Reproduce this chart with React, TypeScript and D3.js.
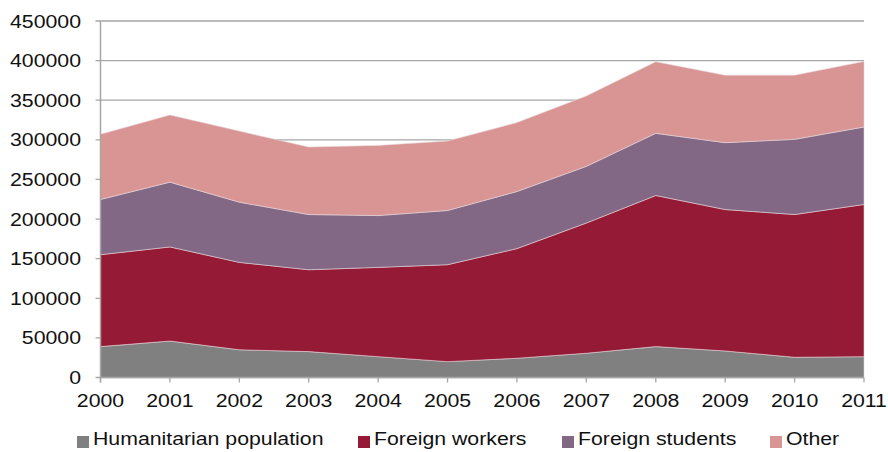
import React from "react";
import * as d3 from "d3";

const years = [2000, 2001, 2002, 2003, 2004, 2005, 2006, 2007, 2008, 2009, 2010, 2011];
const humanitarian = [39000, 46000, 35000, 32700, 26300, 20000, 24300, 30600, 39000, 33500, 25500, 26300];
const foreignWorkers = [116000, 118800, 110300, 103300, 112700, 122400, 138400, 164400, 190700, 178500, 180200, 192100];
const foreignStudents = [69700, 81800, 76000, 69700, 65400, 68400, 72100, 71500, 78500, 84400, 94900, 97800];
const other = [82300, 84800, 89700, 85200, 88600, 87700, 87000, 88900, 90300, 85200, 81000, 82800];
const seriesNames = ["Humanitarian population", "Foreign workers", "Foreign students", "Other"];
const seriesColors = ["#808080", "#951a35", "#836886", "#d99594"];
const yTicks = [0, 50000, 100000, 150000, 200000, 250000, 300000, 350000, 400000, 450000];

const W = 888, H = 452;
const left = 100.5, right = 864, top = 21, bottom = 377.5;
const FONT = "'Liberation Sans', Arial, sans-serif";
const SX = 1.15;

export default function App() {
  const rows = years.map((y, i) => ({
    year: y,
    s0: humanitarian[i],
    s1: foreignWorkers[i],
    s2: foreignStudents[i],
    s3: other[i],
  }));
  const keys = ["s0", "s1", "s2", "s3"];
  const stacked = d3.stack<any>().keys(keys)(rows);
  const x = d3.scaleLinear().domain([2000, 2011]).range([left, right]);
  const y = d3.scaleLinear().domain([0, 450000]).range([bottom, top]);
  const area = d3
    .area<any>()
    .x((d) => x(d.data.year))
    .y0((d) => y(d[0]))
    .y1((d) => y(d[1]));

  const legendX = [77, 358, 562, 770];

  return (
    <svg width={W} height={H} style={{ position: "absolute", left: 0, top: 0 }}>
      <rect x={0} y={0} width={W} height={H} fill="#fff" />
      {yTicks.map((t) => (
        <line key={t} x1={left - 5} x2={right} y1={y(t)} y2={y(t)} stroke="#a6a6a6" strokeWidth={1.3} />
      ))}
      {stacked.map((s, i) => (
        <path key={i} d={area(s) || ""} fill={seriesColors[i]} stroke="#e8d8dc" strokeWidth={0.8} strokeOpacity={0.7} />
      ))}
      <line x1={left} x2={left} y1={top} y2={bottom + 5} stroke="#a6a6a6" strokeWidth={1.5} />
      <line x1={left} x2={right} y1={bottom} y2={bottom} stroke="#a6a6a6" strokeWidth={1.5} />
      {years.map((yr) => (
        <line key={yr} x1={x(yr)} x2={x(yr)} y1={bottom} y2={bottom + 5} stroke="#a6a6a6" strokeWidth={1.3} />
      ))}
      {yTicks.map((t) => (
        <g key={t} transform={`translate(81,${y(t) + 6.5}) scale(${SX},1)`}>
          <text textAnchor="end" fontFamily={FONT} fontSize={18.5} fill="#111">
            {t}
          </text>
        </g>
      ))}
      {years.map((yr) => (
        <g key={yr} transform={`translate(${x(yr)},407) scale(${SX},1)`}>
          <text textAnchor="middle" fontFamily={FONT} fontSize={18.5} fill="#111">
            {yr}
          </text>
        </g>
      ))}
      {seriesNames.map((n, i) => (
        <g key={n}>
          <rect x={legendX[i]} y={436} width={12} height={12} fill={seriesColors[i]} />
          <g transform={`translate(${legendX[i] + 16},445) scale(${SX},1)`}>
            <text fontFamily={FONT} fontSize={18.5} fill="#111">
              {n}
            </text>
          </g>
        </g>
      ))}
    </svg>
  );
}
